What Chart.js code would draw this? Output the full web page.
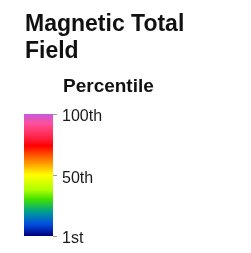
<!DOCTYPE html>
<html>
<head>
<meta charset="utf-8">
<script src="https://cdn.jsdelivr.net/npm/chart.js@4"></script>
<style>
  html, body { margin: 0; padding: 0; background: #fff; }
  #wrap { position: relative; width: 251px; height: 253px; overflow: hidden; font-family: "Liberation Sans", Arial, sans-serif; }
  #title { position: absolute; left: 25px; top: 10px; font-size: 23px; font-weight: bold; line-height: 27px; color: #111; }
  #sub { position: absolute; left: 63px; top: 77px; font-size: 19px; font-weight: bold; line-height: 18px; color: #111; }
  #c { position: absolute; left: 0; top: 0; }
</style>
</head>
<body>
<div id="wrap">
  <canvas id="c" width="251" height="253"></canvas>
  <div id="title">Magnetic Total<br>Field</div>
  <div id="sub">Percentile</div>
</div>
<script>
// ── Data ──
const rampRange = [1, 100];
const tickValues = [1, 50, 100];
const tickLabels = { 1: '1st', 50: '50th', 100: '100th' };
// colour ramp, top (100th) to bottom (1st)
const rampStops = [0, 0.08, 0.2, 0.26, 0.38, 0.5, 0.62, 0.7, 0.8, 0.9, 1];
const rampColors = ['#c45be0', '#ff4f9a', '#ff2040', '#ff0000', '#ff8000', '#ffff00',
                    '#b0ff00', '#40e000', '#00a090', '#0050e0', '#000080'];

function rampFill(ctx) {
  const area = ctx.chart.chartArea;
  if (!area) return '#ff0';
  const y = ctx.chart.scales.y;
  const g = ctx.chart.ctx.createLinearGradient(0, y.getPixelForValue(rampRange[1]), 0, y.getPixelForValue(rampRange[0]));
  rampStops.forEach((s, i) => g.addColorStop(s, rampColors[i]));
  return g;
}

new Chart(document.getElementById('c'), {
  type: 'bar',
  data: {
    labels: ['ramp'],
    datasets: [{ data: [rampRange], backgroundColor: rampFill, borderWidth: 0, barPercentage: 1, categoryPercentage: 1 }]
  },
  options: {
    responsive: false, animation: false,
    layout: { padding: { left: 24, top: 114, bottom: 17, right: 0 } },
    plugins: { legend: { display: false }, tooltip: { enabled: false } },
    scales: {
      x: { display: false },
      y: {
        position: 'right', min: rampRange[0], max: rampRange[1],
        afterFit: s => { s.width = 251 - 53; },
        afterBuildTicks: s => { s.ticks = tickValues.map(v => ({ value: v })); },
        border: { display: false },
        grid: { drawOnChartArea: false, drawTicks: true, tickLength: 4, color: '#999' },
        ticks: {
          padding: 5, labelOffset: 3, color: '#1a1a1a',
          font: { family: '"Liberation Sans", Arial, sans-serif', size: 16 },
          callback: v => tickLabels[v] || ''
        }
      }
    }
  }
});
</script>
</body>
</html>
